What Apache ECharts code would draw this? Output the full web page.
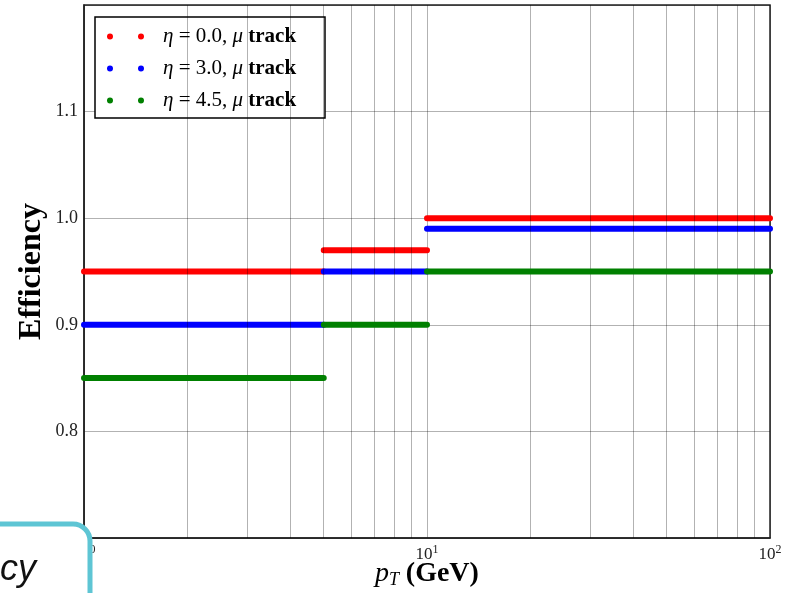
<!DOCTYPE html>
<html>
<head>
<meta charset="utf-8">
<script src="https://cdn.jsdelivr.net/npm/echarts@6/dist/echarts.min.js"></script>
<style>html,body{margin:0;padding:0;background:#fff;}#c{width:792px;height:593px;}</style>
</head>
<body>
<div id="c"></div>
<script>
// ---- data ----
const ptEdges = [1, 5, 10, 100];            // pT bin edges (GeV)
const effEta00 = [0.95, 0.97, 1.00];        // eta = 0.0, mu track
const effEta30 = [0.90, 0.95, 0.99];        // eta = 3.0, mu track
const effEta45 = [0.85, 0.90, 0.95];        // eta = 4.5, mu track
const seriesNames = ['eta00', 'eta30', 'eta45'];
const legendLabels = ['0.0', '3.0', '4.5'];
const minorTicksX = [2, 3, 4, 5, 6, 7, 8, 9, 20, 30, 40, 50, 60, 70, 80, 90];
const yTickLabels = [0.8, 0.9, 1.0, 1.1];

function steps(eff) {
  const d = [];
  for (let i = 0; i < eff.length; i++) {
    d.push([ptEdges[i], eff[i]]);
    d.push([ptEdges[i + 1], eff[i]]);
    if (i < eff.length - 1) d.push([ptEdges[i + 1], '-']);
  }
  return d;
}

const colors = ['#ff0000', '#0000ff', '#008000'];
const effs = [effEta00, effEta30, effEta45];
const serif = "'Liberation Serif', 'DejaVu Serif', serif";
const gridColor = 'rgba(0,0,0,0.3)';

const series = effs.map((e, i) => ({
  name: seriesNames[i],
  type: 'line',
  data: steps(e),
  showSymbol: false,
  symbol: 'none',
  connectNulls: false,
  clip: true,
  itemStyle: { color: colors[i] },
  lineStyle: { color: colors[i], width: 6, cap: 'round' },
  z: 3 + i,
  animation: false
}));
series.push({
  name: 'minorgrid',
  type: 'line',
  data: [],
  z: 10,
  markLine: {
    silent: true,
    symbol: 'none',
    label: { show: false },
    lineStyle: { color: gridColor, width: 1, type: 'solid' },
    data: minorTicksX.map(v => ({ xAxis: v })),
    animation: false
  }
});

const chart = echarts.init(document.getElementById('c'), null, { renderer: 'canvas' });
chart.setOption({
  animation: false,
  backgroundColor: '#fff',
  grid: { left: 84, right: 22, top: 5, bottom: 55, containLabel: false, outerBoundsMode: 'none', show: true, borderColor: '#222', borderWidth: 1.5, backgroundColor: 'transparent' },
  xAxis: {
    type: 'log', logBase: 10, min: 1, max: 100,
    name: '{i|p}{s|T}  {b|(GeV)}',
    nameLocation: 'middle', nameGap: 21, nameMoveOverlap: false,
    nameTextStyle: {
      rich: {
        i: { fontFamily: serif, fontStyle: 'italic', fontSize: 28, color: '#000' },
        s: { fontFamily: serif, fontStyle: 'italic', fontSize: 18, color: '#000', padding: [12, 0, 0, 0] },
        b: { fontFamily: serif, fontWeight: 'bold', fontSize: 28, color: '#000' }
      }
    },
    axisLine: { show: true, onZero: false, lineStyle: { color: '#222', width: 1.5 } },
    axisTick: { show: false },
    splitLine: { show: true, lineStyle: { color: gridColor, width: 1 } },
    axisLabel: {
      margin: 6,
      formatter: v => '{n|10}{e|' + Math.round(Math.log10(v)) + '}',
      rich: {
        n: { fontFamily: serif, fontSize: 17, color: '#222' },
        e: { fontFamily: serif, fontSize: 12, color: '#222', padding: [0, 0, 9, 0] }
      }
    }
  },
  yAxis: {
    type: 'value', min: 0.7, max: 1.2, interval: 0.1,
    name: 'Efficiency',
    nameLocation: 'middle', nameGap: 36, nameRotate: 90, nameMoveOverlap: false,
    nameTextStyle: { fontFamily: serif, fontWeight: 'bold', fontSize: 32, color: '#000' },
    axisLine: { show: true, lineStyle: { color: '#222', width: 1.5 } },
    axisTick: { show: false },
    splitLine: { show: true, lineStyle: { color: gridColor, width: 1 } },
    axisLabel: {
      margin: 6, showMinLabel: false, showMaxLabel: false,
      fontFamily: serif, fontSize: 18, color: '#222',
      formatter: v => (yTickLabels.some(t => Math.abs(t - v) < 1e-9) ? v.toFixed(1) : '')
    }
  },
  legend: {
    data: seriesNames,
    orient: 'vertical',
    left: 95, top: 17,
    padding: [9, 10, 7, 12],
    itemGap: 11,
    itemWidth: 37, itemHeight: 6,
    icon: 'path://M0,3A3,3,0,1,1,6,3A3,3,0,1,1,0,3ZM31,3A3,3,0,1,1,37,3A3,3,0,1,1,31,3Z',
    borderColor: '#000', borderWidth: 1.5, borderRadius: 0,
    backgroundColor: '#fff',
    selectedMode: false,
    formatter: name => {
      const idx = seriesNames.indexOf(name);
      return '{i|η} = ' + legendLabels[idx] + ', {i|μ} {b|track}';
    },
    textStyle: {
      fontFamily: serif, fontSize: 21, color: '#000', lineHeight: 20,
      width: 152,
      padding: [0, 0, 0, 14],
      rich: {
        i: { fontFamily: serif, fontStyle: 'italic', fontSize: 21, color: '#000', lineHeight: 20 },
        b: { fontFamily: serif, fontWeight: 'bold', fontSize: 21, color: '#000', lineHeight: 20 }
      }
    }
  },
  graphic: [
    {
      type: 'rect', z: 100, silent: true,
      shape: { x: -40, y: 524, width: 130, height: 120, r: 17 },
      style: { fill: '#fff', stroke: '#5ec5d4', lineWidth: 5 }
    },
    {
      type: 'text', z: 101, silent: true,
      style: {
        x: 36, y: 570, text: 'Efficiency', align: 'right', verticalAlign: 'middle',
        font: "italic 500 36px 'Liberation Sans', Arial, sans-serif", fill: '#111'
      }
    }
  ],
  series: series
});
</script>
</body>
</html>
